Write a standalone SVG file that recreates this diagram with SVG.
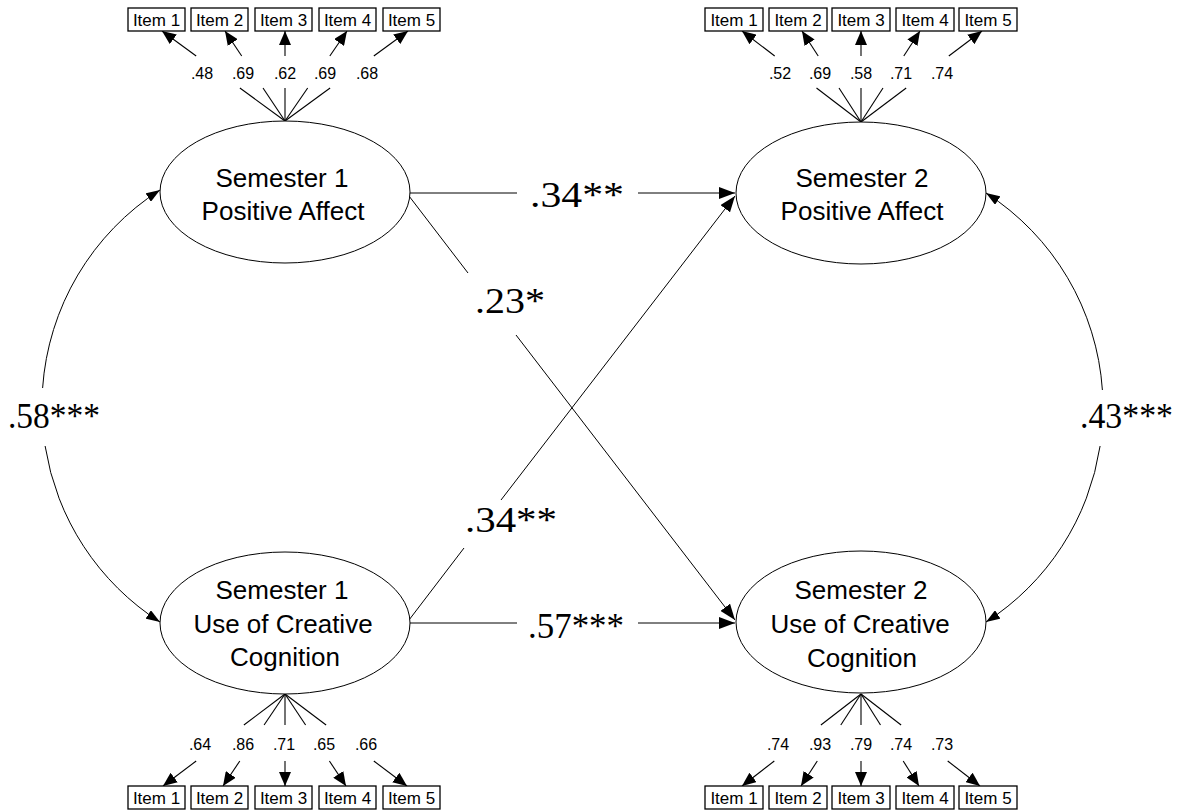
<svg xmlns="http://www.w3.org/2000/svg" width="1180" height="810" viewBox="0 0 1180 810">
<defs>
<marker id="ah" markerUnits="userSpaceOnUse" viewBox="0 0 16 12" refX="16" refY="6" markerWidth="16" markerHeight="12" orient="auto"><path d="M0,0 L16,6 L0,12 z" fill="#000"/></marker>
<marker id="ahs" markerUnits="userSpaceOnUse" viewBox="0 0 14 10" refX="14" refY="5" markerWidth="14" markerHeight="10" orient="auto-start-reverse"><path d="M0,0 L14,5 L0,10 z" fill="#000"/></marker>
<marker id="ai" markerUnits="userSpaceOnUse" viewBox="0 0 14 12" refX="14" refY="6" markerWidth="14" markerHeight="12" orient="auto"><path d="M0,0 L14,6 L0,12 z" fill="#000"/></marker>
</defs>
<style>
.bg{fill:#fff}
.lat{fill:#fff;stroke:#000;stroke-width:1}
.box{fill:#fff;stroke:#000;stroke-width:1.3}
.ln{stroke:#000;stroke-width:1;fill:none}
.ld{stroke:#000;stroke-width:1.1;fill:none}
.it{font-family:"Liberation Sans",Arial,sans-serif;font-size:17px;text-anchor:middle;fill:#000}
.sm{font-family:"Liberation Sans",Arial,sans-serif;font-size:16px;text-anchor:middle;fill:#000}
.nm{font-family:"Liberation Sans",Arial,sans-serif;font-size:26px;text-anchor:middle;fill:#000}
.big{font-family:"Liberation Serif","Times New Roman",serif;font-size:35px;fill:#000}
</style>
<rect class="bg" x="0" y="0" width="1180" height="810"/>

<g id="connectors">
<line class="ln" x1="409" y1="193" x2="517" y2="193"/>
<line class="ln" x1="638" y1="193" x2="735" y2="193" marker-end="url(#ah)"/>
<line class="ln" x1="409" y1="196" x2="468" y2="273"/>
<line class="ln" x1="516" y1="335" x2="735" y2="620" marker-end="url(#ah)"/>
<line class="ln" x1="409" y1="620" x2="464" y2="548"/>
<line class="ln" x1="501" y1="500" x2="735" y2="196" marker-end="url(#ah)"/>
<line class="ln" x1="409" y1="623" x2="517" y2="623"/>
<line class="ln" x1="638" y1="623" x2="735" y2="623" marker-end="url(#ah)"/>
<path class="ln" d="M160,190 A256,256 0 0 0 42.6,388" marker-start="url(#ahs)"/>
<path class="ln" d="M45.1,446 A256,256 0 0 0 160,622" marker-end="url(#ahs)"/>
<path class="ln" d="M986,193 A255,255 0 0 1 1102.4,390" marker-start="url(#ahs)"/>
<path class="ln" d="M1100.1,446 A255,255 0 0 1 986,622" marker-end="url(#ahs)"/>
<line class="ld" x1="285" y1="121" x2="239.9" y2="88"/><line class="ld" x1="196.2" y1="56" x2="162" y2="31" marker-end="url(#ai)"/>
<line class="ld" x1="285" y1="121" x2="263" y2="88"/><line class="ld" x1="241.7" y1="56" x2="225" y2="31" marker-end="url(#ai)"/>
<line class="ld" x1="285" y1="121" x2="285" y2="88"/><line class="ld" x1="285" y1="56" x2="285" y2="31" marker-end="url(#ai)"/>
<line class="ld" x1="285" y1="121" x2="307.7" y2="88"/><line class="ld" x1="329.8" y1="56" x2="347" y2="31" marker-end="url(#ai)"/>
<line class="ld" x1="285" y1="121" x2="330.1" y2="88"/><line class="ld" x1="373.8" y1="56" x2="408" y2="31" marker-end="url(#ai)"/>
<line class="ld" x1="861" y1="122" x2="816.5" y2="88"/><line class="ld" x1="774.7" y1="56" x2="742" y2="31" marker-end="url(#ai)"/>
<line class="ld" x1="861" y1="122" x2="839" y2="88"/><line class="ld" x1="818.2" y1="56" x2="802" y2="31" marker-end="url(#ai)"/>
<line class="ld" x1="861" y1="122" x2="861" y2="88"/><line class="ld" x1="861" y1="56" x2="861" y2="31" marker-end="url(#ai)"/>
<line class="ld" x1="861" y1="122" x2="883" y2="88"/><line class="ld" x1="903.8" y1="56" x2="920" y2="31" marker-end="url(#ai)"/>
<line class="ld" x1="861" y1="122" x2="906.2" y2="88"/><line class="ld" x1="948.8" y1="56" x2="982" y2="31" marker-end="url(#ai)"/>
<line class="ld" x1="285" y1="694" x2="243.9" y2="725"/><line class="ld" x1="196.2" y1="761" x2="163" y2="786" marker-end="url(#ai)"/>
<line class="ld" x1="285" y1="694" x2="264.1" y2="725"/><line class="ld" x1="239.8" y1="761" x2="223" y2="786" marker-end="url(#ai)"/>
<line class="ld" x1="285" y1="694" x2="285" y2="725"/><line class="ld" x1="285" y1="761" x2="285" y2="786" marker-end="url(#ai)"/>
<line class="ld" x1="285" y1="694" x2="305.6" y2="725"/><line class="ld" x1="329.4" y1="761" x2="346" y2="786" marker-end="url(#ai)"/>
<line class="ld" x1="285" y1="694" x2="326.1" y2="725"/><line class="ld" x1="373.8" y1="761" x2="407" y2="786" marker-end="url(#ai)"/>
<line class="ld" x1="861" y1="694" x2="820.9" y2="725"/><line class="ld" x1="774.3" y1="761" x2="742" y2="786" marker-end="url(#ai)"/>
<line class="ld" x1="861" y1="694" x2="840.8" y2="725"/><line class="ld" x1="817.3" y1="761" x2="801" y2="786" marker-end="url(#ai)"/>
<line class="ld" x1="861" y1="694" x2="861" y2="725"/><line class="ld" x1="861" y1="761" x2="861" y2="786" marker-end="url(#ai)"/>
<line class="ld" x1="861" y1="694" x2="880.5" y2="725"/><line class="ld" x1="903.2" y1="761" x2="919" y2="786" marker-end="url(#ai)"/>
<line class="ld" x1="861" y1="694" x2="901.1" y2="725"/><line class="ld" x1="947.7" y1="761" x2="980" y2="786" marker-end="url(#ai)"/>
</g>

<g id="path-labels">
<text class="big" x="530" y="207" textLength="94" lengthAdjust="spacingAndGlyphs">.34**</text>
<text class="big" x="475" y="313" textLength="70" lengthAdjust="spacingAndGlyphs">.23*</text>
<text class="big" x="465" y="532" textLength="92" lengthAdjust="spacingAndGlyphs">.34**</text>
<text class="big" x="528" y="638" textLength="96" lengthAdjust="spacingAndGlyphs">.57***</text>
<text class="big" x="8" y="428" textLength="92" lengthAdjust="spacingAndGlyphs">.58***</text>
<text class="big" x="1080" y="428" textLength="93" lengthAdjust="spacingAndGlyphs">.43***</text>
</g>

<g id="loading-labels">
<text class="sm" x="202" y="79">.48</text><text class="sm" x="243" y="79">.69</text><text class="sm" x="285" y="79">.62</text><text class="sm" x="325" y="79">.69</text><text class="sm" x="367" y="79">.68</text>
<text class="sm" x="780" y="79">.52</text><text class="sm" x="820" y="79">.69</text><text class="sm" x="861" y="79">.58</text><text class="sm" x="901" y="79">.71</text><text class="sm" x="942" y="79">.74</text>
<text class="sm" x="200" y="750">.64</text><text class="sm" x="243" y="750">.86</text><text class="sm" x="284" y="750">.71</text><text class="sm" x="324" y="750">.65</text><text class="sm" x="366" y="750">.66</text>
<text class="sm" x="778" y="750">.74</text><text class="sm" x="820" y="750">.93</text><text class="sm" x="861" y="750">.79</text><text class="sm" x="901" y="750">.74</text><text class="sm" x="942" y="750">.73</text>
</g>

<g id="s1pa">
<ellipse class="lat" cx="285" cy="192" rx="125" ry="71"/>
<text class="nm" x="282" y="187">Semester 1</text>
<text class="nm" x="283" y="220">Positive Affect</text>
</g>
<g id="s2pa">
<ellipse class="lat" cx="861" cy="193" rx="125" ry="71"/>
<text class="nm" x="862" y="187">Semester 2</text>
<text class="nm" x="862" y="220">Positive Affect</text>
</g>
<g id="s1ucc">
<ellipse class="lat" cx="285" cy="623" rx="125" ry="71"/>
<text class="nm" x="282" y="599">Semester 1</text>
<text class="nm" x="283" y="633">Use of Creative</text>
<text class="nm" x="285" y="666">Cognition</text>
</g>
<g id="s2ucc">
<ellipse class="lat" cx="861" cy="622" rx="125" ry="71"/>
<text class="nm" x="861" y="599">Semester 2</text>
<text class="nm" x="860" y="633">Use of Creative</text>
<text class="nm" x="862" y="667">Cognition</text>
</g>

<g id="s1pa-items">
<g id="s1pa-i1"><rect class="box" x="128" y="8" width="57" height="23"/><text class="it" x="156.5" y="25.5">Item 1</text></g>
<g id="s1pa-i2"><rect class="box" x="191" y="8" width="57" height="23"/><text class="it" x="219.5" y="25.5">Item 2</text></g>
<g id="s1pa-i3"><rect class="box" x="255" y="8" width="57" height="23"/><text class="it" x="283.5" y="25.5">Item 3</text></g>
<g id="s1pa-i4"><rect class="box" x="319" y="8" width="57" height="23"/><text class="it" x="347.5" y="25.5">Item 4</text></g>
<g id="s1pa-i5"><rect class="box" x="383" y="8" width="57" height="23"/><text class="it" x="411.5" y="25.5">Item 5</text></g>
</g>
<g id="s2pa-items">
<g id="s2pa-i1"><rect class="box" x="705" y="8" width="58" height="23"/><text class="it" x="734" y="25.5">Item 1</text></g>
<g id="s2pa-i2"><rect class="box" x="769" y="8" width="58" height="23"/><text class="it" x="798" y="25.5">Item 2</text></g>
<g id="s2pa-i3"><rect class="box" x="832" y="8" width="58" height="23"/><text class="it" x="861" y="25.5">Item 3</text></g>
<g id="s2pa-i4"><rect class="box" x="896" y="8" width="58" height="23"/><text class="it" x="925" y="25.5">Item 4</text></g>
<g id="s2pa-i5"><rect class="box" x="959" y="8" width="58" height="23"/><text class="it" x="988" y="25.5">Item 5</text></g>
</g>
<g id="s1ucc-items">
<g id="s1ucc-i1"><rect class="box" x="128" y="786" width="57" height="23"/><text class="it" x="156.5" y="803.5">Item 1</text></g>
<g id="s1ucc-i2"><rect class="box" x="191" y="786" width="57" height="23"/><text class="it" x="219.5" y="803.5">Item 2</text></g>
<g id="s1ucc-i3"><rect class="box" x="255" y="786" width="57" height="23"/><text class="it" x="283.5" y="803.5">Item 3</text></g>
<g id="s1ucc-i4"><rect class="box" x="319" y="786" width="57" height="23"/><text class="it" x="347.5" y="803.5">Item 4</text></g>
<g id="s1ucc-i5"><rect class="box" x="383" y="786" width="57" height="23"/><text class="it" x="411.5" y="803.5">Item 5</text></g>
</g>
<g id="s2ucc-items">
<g id="s2ucc-i1"><rect class="box" x="705" y="786" width="58" height="23"/><text class="it" x="734" y="803.5">Item 1</text></g>
<g id="s2ucc-i2"><rect class="box" x="769" y="786" width="58" height="23"/><text class="it" x="798" y="803.5">Item 2</text></g>
<g id="s2ucc-i3"><rect class="box" x="832" y="786" width="58" height="23"/><text class="it" x="861" y="803.5">Item 3</text></g>
<g id="s2ucc-i4"><rect class="box" x="896" y="786" width="58" height="23"/><text class="it" x="925" y="803.5">Item 4</text></g>
<g id="s2ucc-i5"><rect class="box" x="959" y="786" width="58" height="23"/><text class="it" x="988" y="803.5">Item 5</text></g>
</g>
</svg>
